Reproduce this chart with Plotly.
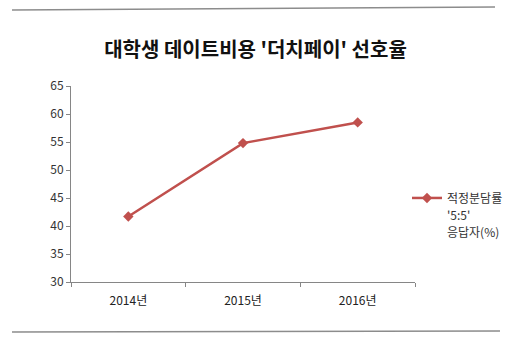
import plotly.graph_objects as go

categories = ["2014년", "2015년", "2016년"]
values = [41.7, 54.8, 58.5]
legend_lines = ["적정분담률", "'5:5'", "응답자(%)"]
title_text = "대학생 데이트비용 '더치페이' 선호율"
y_ticks = [30, 35, 40, 45, 50, 55, 60, 65]

color = "#C0504D"
axis_color = "#868686"
font_family = "Noto Sans CJK KR, Noto Sans, sans-serif"

series_name = "<br>".join("<span style='font-size:12px'>%s</span>" % s for s in legend_lines)

fig = go.Figure()
fig.add_trace(go.Scatter(
    x=categories, y=values, mode="lines+markers", name=series_name,
    line=dict(color=color, width=2.5),
    marker=dict(symbol="diamond", size=8, color=color),
))

fig.update_layout(
    width=511, height=337,
    margin=dict(l=71, r=96, t=86, b=55, autoexpand=False),
    paper_bgcolor="white", plot_bgcolor="white",
    font=dict(family=font_family, size=12, color="#333333"),
    title=dict(text="<b>" + title_text + "</b>", x=0.5, xanchor="center",
               y=1 - 50 / 337, yanchor="middle", xref="container",
               font=dict(size=20, color="#111111", family=font_family)),
    showlegend=True,
    legend=dict(x=407 / 511, y=1 - 183 / 337, xref="container", yref="container",
                xanchor="left", yanchor="top", valign="top",
                font=dict(size=13, color="#333333"), bgcolor="rgba(0,0,0,0)",
                itemwidth=30),
    xaxis=dict(type="category", range=[-0.5, 2.5], showline=True, linecolor=axis_color,
               linewidth=1, ticks="outside", tickson="boundaries", ticklen=4,
               tickcolor=axis_color, showgrid=False, zeroline=False,
               ticklabelstandoff=8,
               tickfont=dict(size=12, color="#222222")),
    yaxis=dict(range=[30, 65], tickvals=y_ticks, showline=True, linecolor=axis_color,
               linewidth=1, ticks="outside", ticklen=4, tickcolor=axis_color,
               showgrid=False, zeroline=False,
               tickfont=dict(size=12, color="#333333")),
    shapes=[
        dict(type="line", xref="paper", yref="paper", x0=(12 - 71) / 344, x1=(495 - 71) / 344,
             y0=(282 - 10) / 196, y1=(282 - 7) / 196,
             line=dict(color="#8C8C8C", width=1.5)),
        dict(type="line", xref="paper", yref="paper", x0=(12 - 71) / 344, x1=(500 - 71) / 344,
             y0=(282 - 332) / 196, y1=(282 - 331) / 196,
             line=dict(color="#8C8C8C", width=1.5)),
    ],
)

fig.write_html("out.html")
